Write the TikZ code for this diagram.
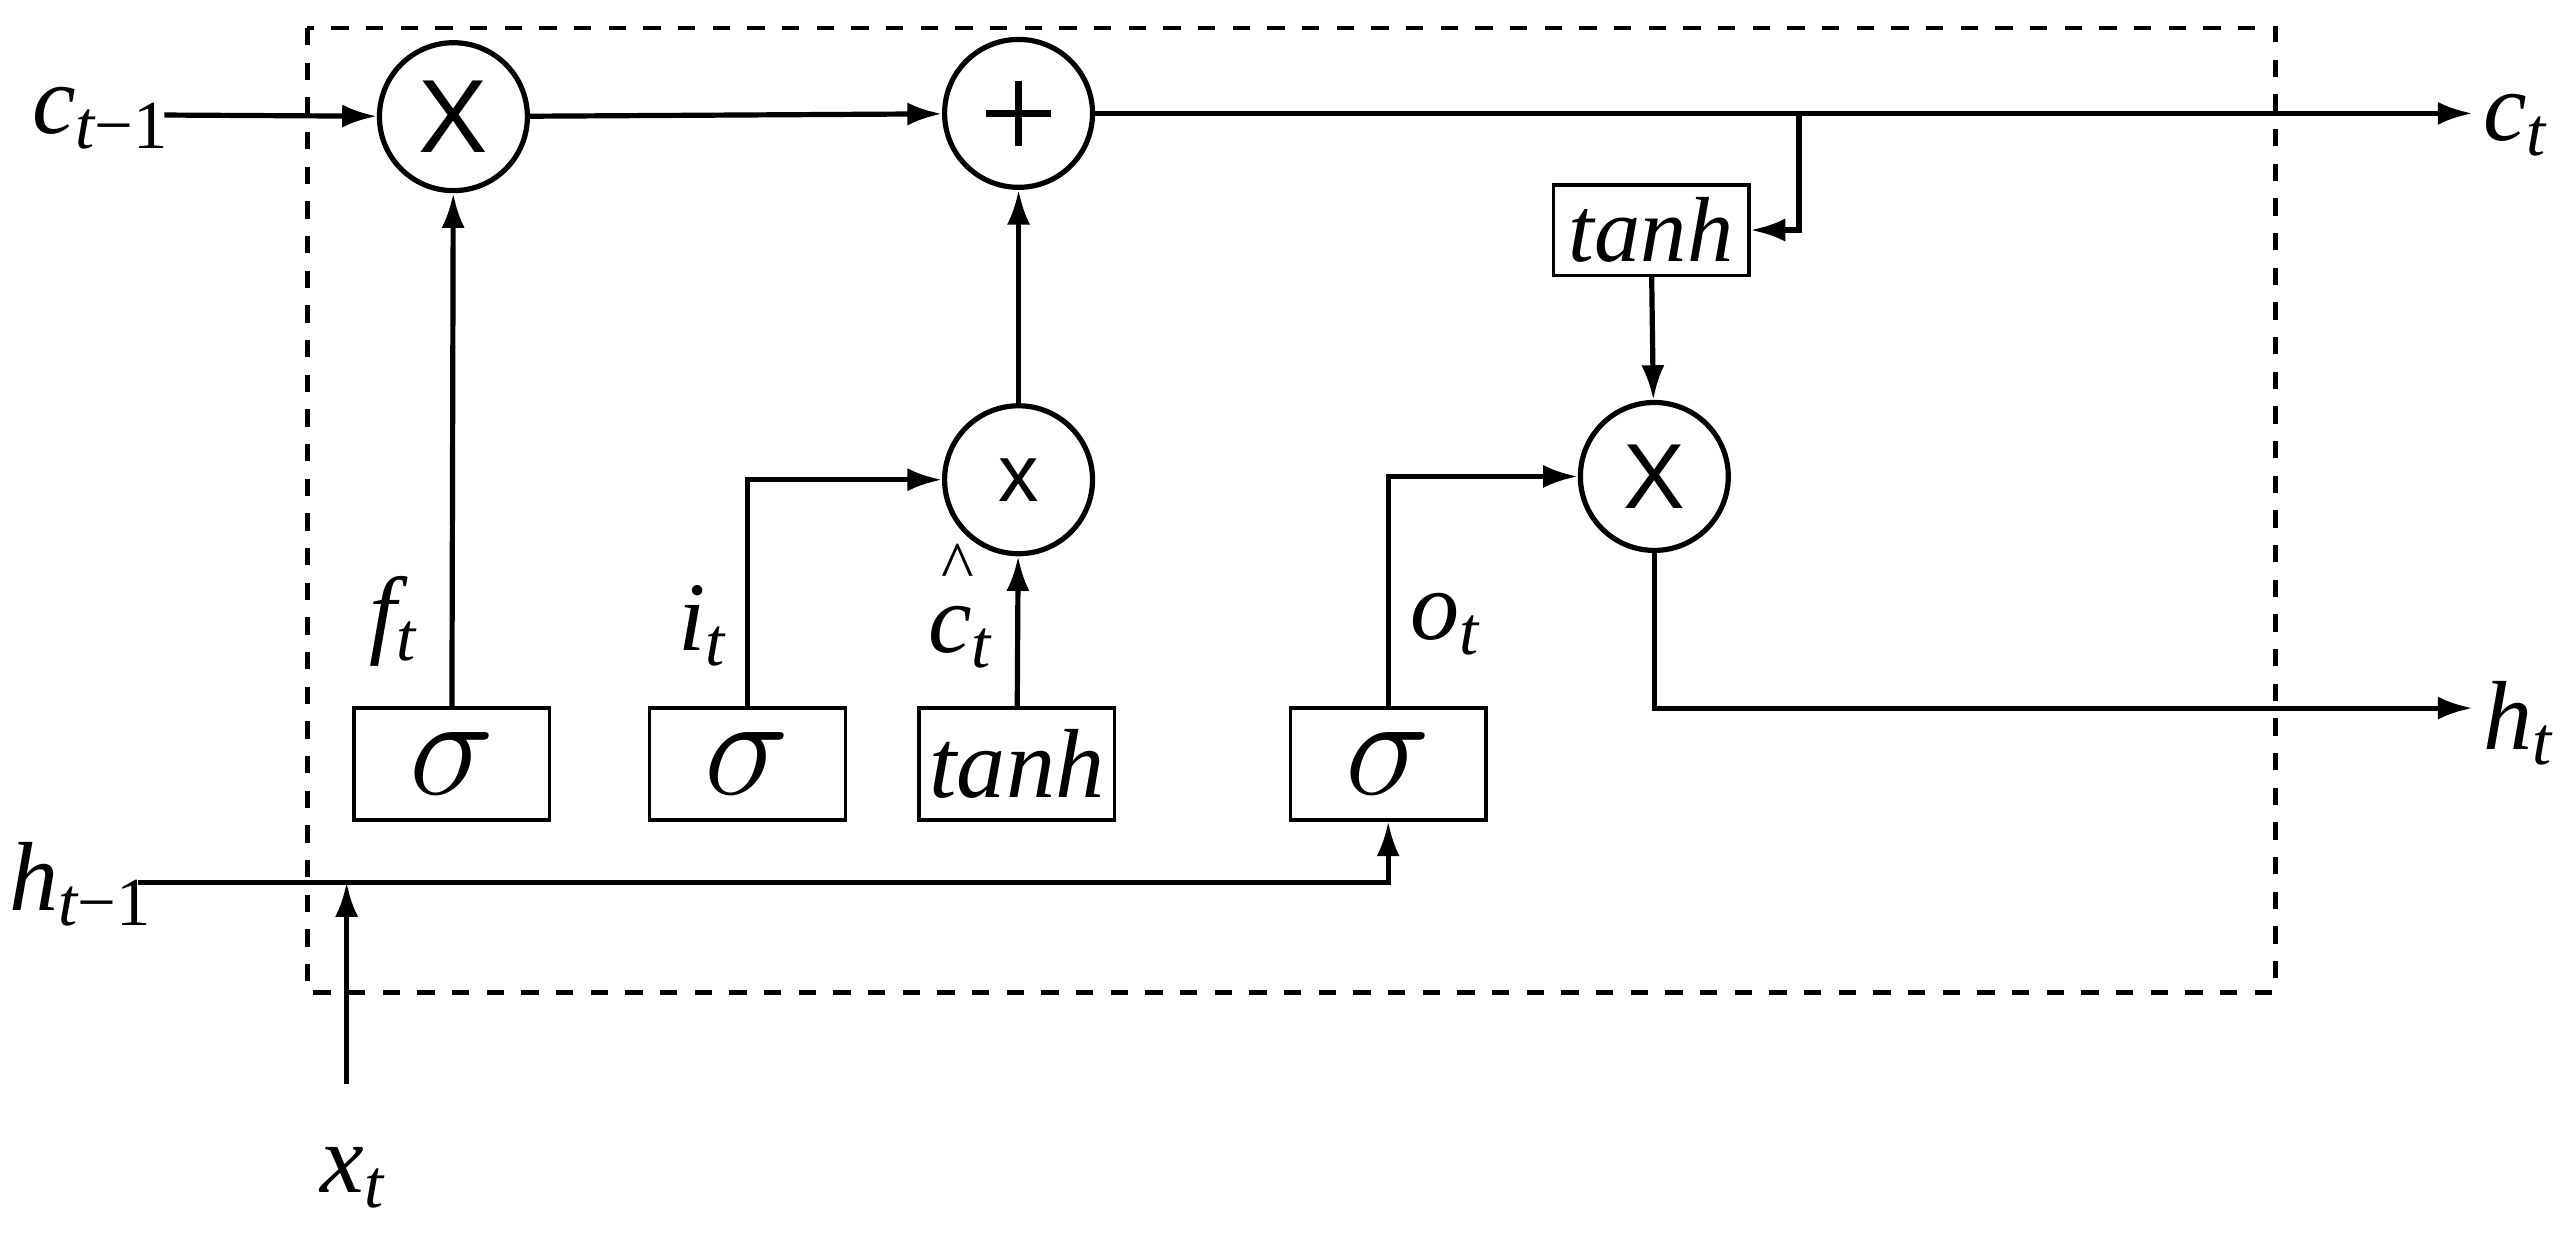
\documentclass[tikz,border=0pt]{standalone}
\usepackage{fontspec}
\setmainfont{Liberation Serif}
\newfontfamily\sansf{Liberation Sans}
\usetikzlibrary{arrows.meta}
\newcommand{\lb}[2]{#1\textsubscript{#2}}
\begin{document}
\begin{tikzpicture}[x=0.01cm,y=-0.01cm,line width=0.9pt,
  op/.style={draw,circle,minimum size=0.9cm,inner sep=0pt,font=\sansf\fontsize{18}{20}\selectfont},
  box/.style={draw,line width=0.6pt,minimum width=1.19cm,minimum height=0.68cm,inner sep=0pt},
  sbox/.style={box,font=\fontsize{26}{28}\selectfont},
  lbl/.style={font=\itshape\fontsize{17}{20}\selectfont,inner sep=0pt},
  arr/.style={-{Latex[length=6pt,width=4pt]}}]
\useasboundingbox (0,0) rectangle (1568,759);
\draw[dashed,line width=0.8pt] (187,17) rectangle (1385,604);
\node[op] (m1) at (276,71) {X};
\node[op] (p) at (620,69) {};
\draw[line width=1.1pt] (600,69) -- (640,69) (620,49) -- (620,89);
\node[op,font=\sansf\fontsize{14}{16}\selectfont] (m2) at (620,292) {x};
\node[op,font=\sansf\fontsize{16}{16}\selectfont] (m3) at (1007,290) {X};
\node[box,minimum height=0.55cm,font=\itshape\fontsize{16}{18}\selectfont] (th2) at (1005,140) {tanh};
\node[sbox] (s1) at (275,465) {$\sigma$};
\node[sbox] (s2) at (455,465) {$\sigma$};
\node[box,font=\itshape\fontsize{17}{20}\selectfont] (th1) at (619,465) {tanh};
\node[sbox] (s4) at (845,465) {$\sigma$};
\node[lbl,anchor=west] (cin) at (18,72) {\lb{c}{\textit{t}\upshape −1}};
\node[lbl,anchor=west] (cout) at (1510,76) {\lb{c}{\textit{t}}};
\node[lbl,anchor=west] (hin) at (4,538) {\lb{h}{\textit{t}\upshape −1}};
\node[lbl,anchor=west] (hout) at (1510,440) {\lb{h}{\textit{t}}};
\node[lbl] (xt) at (215,717) {\lb{x}{\textit{t}}};
\node[lbl] (ft) at (240,378) {\lb{f}{\textit{t}}};
\node[lbl] (it) at (428,381) {\lb{i}{\textit{t}}};
\node[lbl] (ct) at (585,388) {\lb{c}{\textit{t}}};
\node[font=\fontsize{12}{12}\selectfont,inner sep=0pt] (hat) at (583,345) {\^{}};
\node[lbl] (ot) at (880,380) {\lb{o}{\textit{t}}};
\coordinate (a1) at (100,70);
\coordinate (c1) at (1505,69);
\coordinate (tap) at (1095,69);
\coordinate (h1) at (84,537);
\coordinate (h2) at (1505,431);
\coordinate (x0) at (211,660);
\coordinate (x1) at (211,537);
\draw[arr] (a1) -- (m1);
\draw[arr] (m1) -- (p);
\draw[arr] (p) -- (c1);
\draw[arr] (tap) |- (th2);
\draw[arr] (th2) -- (m3);
\draw[arr] (m3) |- (h2);
\draw[arr] (h1) -| (s4);
\draw[arr] (x0) -- (x1);
\draw[arr] (s1) -- (m1);
\draw[arr] (s2) |- (m2);
\draw[arr] (th1) -- (m2);
\draw[arr] (m2) -- (p);
\draw[arr] (s4) |- (m3);
\end{tikzpicture}
\end{document}
